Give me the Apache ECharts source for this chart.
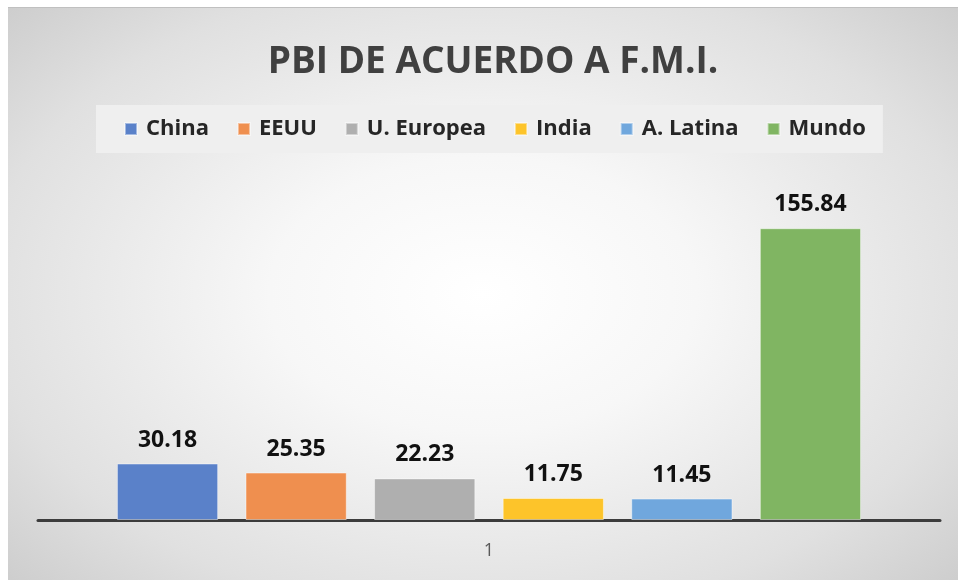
<!DOCTYPE html>
<html>
<head>
<meta charset="utf-8">
<script src="https://cdn.jsdelivr.net/npm/echarts@6/dist/echarts.min.js"></script>
<style>
html,body{margin:0;padding:0;background:#fff;width:958px;height:580px;overflow:hidden;}
#bg{position:absolute;left:8px;top:7px;width:950px;height:573px;border-top:1px solid #c0c0c0;
background:radial-gradient(ellipse 75% 80% at 50% 50%, #ffffff 0%, #f7f7f7 30%, #e0e0e0 70%, #c6c6c6 100%);}
#chart{position:absolute;left:0;top:0;width:958px;height:580px;}
</style>
</head>
<body>
<div id="bg"></div>
<div id="chart"></div>
<script>
const titleText = 'PBI DE ACUERDO A F.M.I.';
const categories = ['1'];
const seriesNames = ['China', 'EEUU', 'U. Europea', 'India', 'A. Latina', 'Mundo'];
const chinaValues = [30.18];
const eeuuValues = [25.35];
const ueValues = [22.23];
const indiaValues = [11.75];
const latinaValues = [11.45];
const mundoValues = [155.84];
const seriesValues = [chinaValues, eeuuValues, ueValues, indiaValues, latinaValues, mundoValues];
const colors = ['#5a81c9', '#ef8f4f', '#afafaf', '#fdc42a', '#70a7dd', '#80b562'];

const FONT = '"Open Sans", "Noto Sans", sans-serif';

const chart = echarts.init(document.getElementById('chart'), null, {renderer: 'canvas'});
const series = seriesNames.map((name, i) => ({
  name: name,
  type: 'bar',
  data: seriesValues[i],
  barGap: '27%',
  barCategoryGap: '17.5%',
  itemStyle: {color: colors[i], borderColor: 'rgba(255,255,255,0.45)', borderWidth: 1},
  label: {
    show: true, position: 'top', distance: 12,
    formatter: p => p.value.toFixed(2),
    color: '#111', fontWeight: 'bold', fontSize: 23, fontFamily: FONT
  }
}));

chart.setOption({
  backgroundColor: 'transparent',
  animation: false,
  color: colors,
  title: {
    text: titleText, left: 488, textAlign: 'center', top: 39,
    textStyle: {color: '#404040', fontSize: 37, fontWeight: 'bold', fontFamily: FONT}
  },
  legend: {
    data: seriesNames, top: 105, left: 96,
    backgroundColor: '#efefef',
    padding: [13, 17, 13, 28],
    itemGap: 28, itemWidth: 12, itemHeight: 12, icon: 'rect',
    textStyle: {color: '#262626', fontSize: 22, fontWeight: 'bold', fontFamily: FONT, padding: [0, 0, 0, 4]}
  },
  grid: {left: 38, right: 18, top: 183, bottom: 60},
  xAxis: {
    type: 'category', data: categories,
    axisLine: {lineStyle: {color: '#3c3c3c', width: 3}},
    axisTick: {show: false},
    axisLabel: {color: '#595959', fontSize: 18, fontFamily: FONT, margin: 22}
  },
  yAxis: {
    type: 'value', min: 0, max: 180, show: false,
    splitLine: {show: false}
  },
  series: series
});
</script>
</body>
</html>
